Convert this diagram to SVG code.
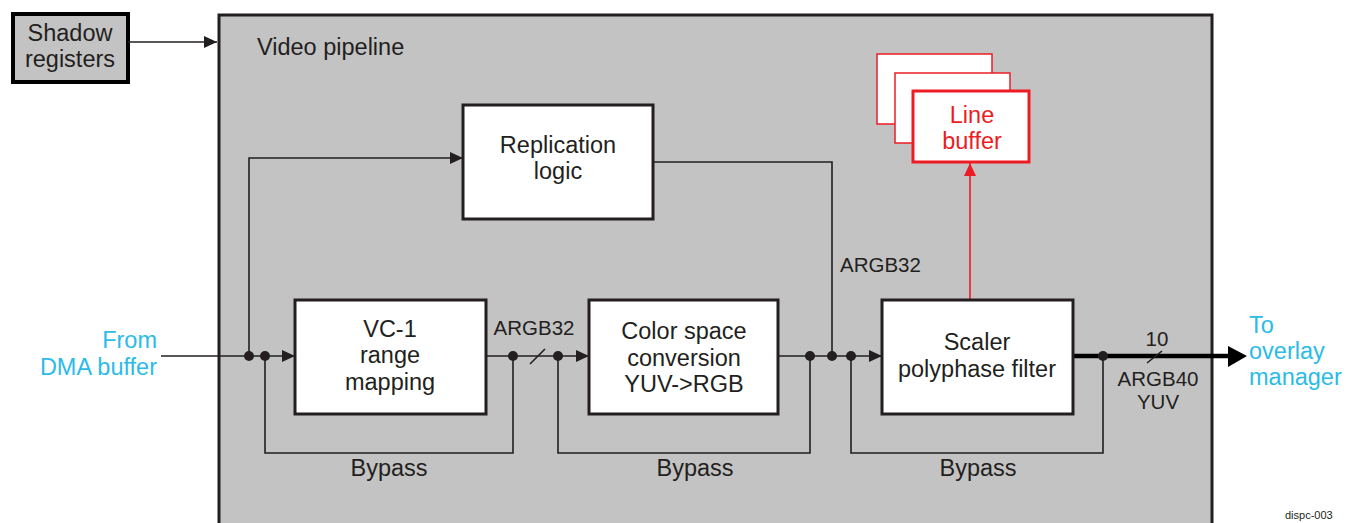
<svg xmlns="http://www.w3.org/2000/svg" width="1346" height="523" viewBox="0 0 1346 523">
<style>
text{font-family:"Liberation Sans",Arial,sans-serif;fill:#231f20}
.t{font-size:23.5px}
.s{font-size:20.5px}
.c{text-anchor:middle}
.cy{fill:#2cbbe8}
.rd{fill:#ed1c24}
.box{fill:#fff;stroke:#231f20;stroke-width:3}
.ln{fill:none;stroke:#231f20;stroke-width:1.6}
.dot{fill:#231f20}
</style>
<defs>
<marker id="ah" markerUnits="userSpaceOnUse" markerWidth="14" markerHeight="14" viewBox="0 0 14 14" refX="13" refY="7" orient="auto"><path d="M0,1 L13,7 L0,13 Z" fill="#231f20"/></marker>
<marker id="ahr" markerUnits="userSpaceOnUse" markerWidth="14" markerHeight="14" viewBox="0 0 14 14" refX="13" refY="7" orient="auto"><path d="M0,1 L13,7 L0,13 Z" fill="#ed1c24"/></marker>
</defs>
<rect width="1346" height="523" fill="#fff"/>
<g id="pipeline">
<rect x="219" y="15" width="993" height="520" fill="#c3c3c3" stroke="#231f20" stroke-width="3"/>
<text class="t" x="257" y="55">Video pipeline</text>
</g>
<g id="shadow">
<rect x="13" y="14" width="115" height="68" fill="#c3c3c3" stroke="#000" stroke-width="4"/>
<text class="t c" x="70" y="41">Shadow</text>
<text class="t c" x="70" y="67">registers</text>
</g>
<g id="connectors">
<line class="ln" x1="128" y1="42" x2="217" y2="42" marker-end="url(#ah)"/>
<polyline class="ln" points="249,356 249,158 463,158" marker-end="url(#ah)"/>
<polyline class="ln" points="653,162 832,162 832,356"/>
<line class="ln" x1="161" y1="356" x2="295" y2="356" marker-end="url(#ah)"/>
<polyline class="ln" points="265,356 265,453 513,453 513,356"/>
<line class="ln" x1="486" y1="356" x2="589" y2="356" marker-end="url(#ah)"/>
<line class="ln" x1="530" y1="364" x2="545" y2="349"/>
<polyline class="ln" points="558,356 558,453 810,453 810,356"/>
<line class="ln" x1="778" y1="356" x2="882" y2="356" marker-end="url(#ah)"/>
<polyline class="ln" points="851,356 851,453 1103,453 1103,356"/>
<line x1="1073" y1="356" x2="1232" y2="356" stroke="#000" stroke-width="4.5"/>
<path d="M1228,346 L1247,356 L1228,367 Z" fill="#000"/>
<line class="ln" x1="1147" y1="363" x2="1162" y2="351"/>
<line x1="970" y1="300" x2="970" y2="163" stroke="#ed1c24" stroke-width="1.6" marker-end="url(#ahr)"/>
<circle class="dot" cx="249" cy="356" r="5"/>
<circle class="dot" cx="265" cy="356" r="5"/>
<circle class="dot" cx="513" cy="356" r="5"/>
<circle class="dot" cx="558" cy="356" r="5"/>
<circle class="dot" cx="810" cy="356" r="5"/>
<circle class="dot" cx="832" cy="356" r="5"/>
<circle class="dot" cx="851" cy="356" r="5"/>
<circle class="dot" cx="1103" cy="356" r="5"/>
</g>
<g id="replication">
<rect class="box" x="463" y="105" width="190" height="114"/>
<text class="t c" x="558" y="153">Replication</text>
<text class="t c" x="558" y="179">logic</text>
</g>
<g id="vc1">
<rect class="box" x="295" y="300" width="191" height="114"/>
<text class="t c" x="390" y="337">VC-1</text>
<text class="t c" x="390" y="363">range</text>
<text class="t c" x="390" y="390">mapping</text>
</g>
<g id="csc">
<rect class="box" x="589" y="300" width="189" height="114"/>
<text class="t c" x="684" y="339">Color space</text>
<text class="t c" x="684" y="366">conversion</text>
<text class="t c" x="684" y="392">YUV-&gt;RGB</text>
</g>
<g id="scaler">
<rect class="box" x="882" y="300" width="191" height="114"/>
<text class="t c" x="977" y="350">Scaler</text>
<text class="t c" x="977" y="377">polyphase filter</text>
</g>
<g id="linebuffer">
<rect x="877" y="54" width="115" height="70" fill="#fff" stroke="#ed1c24" stroke-width="1.5"/>
<rect x="895" y="73" width="115" height="70" fill="#fff" stroke="#ed1c24" stroke-width="1.5"/>
<rect x="913" y="91" width="116" height="71" fill="#fff" stroke="#ed1c24" stroke-width="3"/>
<text class="t c rd" x="972" y="123">Line</text>
<text class="t c rd" x="972" y="149">buffer</text>
</g>
<g id="labels">
<text class="t cy" x="157" y="348" text-anchor="end">From</text>
<text class="t cy" x="157" y="375" text-anchor="end">DMA buffer</text>
<text class="s c" x="534" y="335">ARGB32</text>
<text class="s" x="840" y="272">ARGB32</text>
<text class="s c" x="1157" y="346">10</text>
<text class="s c" x="1158" y="386">ARGB40</text>
<text class="s c" x="1158" y="409">YUV</text>
<text class="t cy" x="1249" y="333">To</text>
<text class="t cy" x="1249" y="359">overlay</text>
<text class="t cy" x="1249" y="385">manager</text>
<text class="t c" x="389" y="476">Bypass</text>
<text class="t c" x="695" y="476">Bypass</text>
<text class="t c" x="978" y="476">Bypass</text>
<text x="1285" y="519" font-size="11">dispc-003</text>
</g>
</svg>
